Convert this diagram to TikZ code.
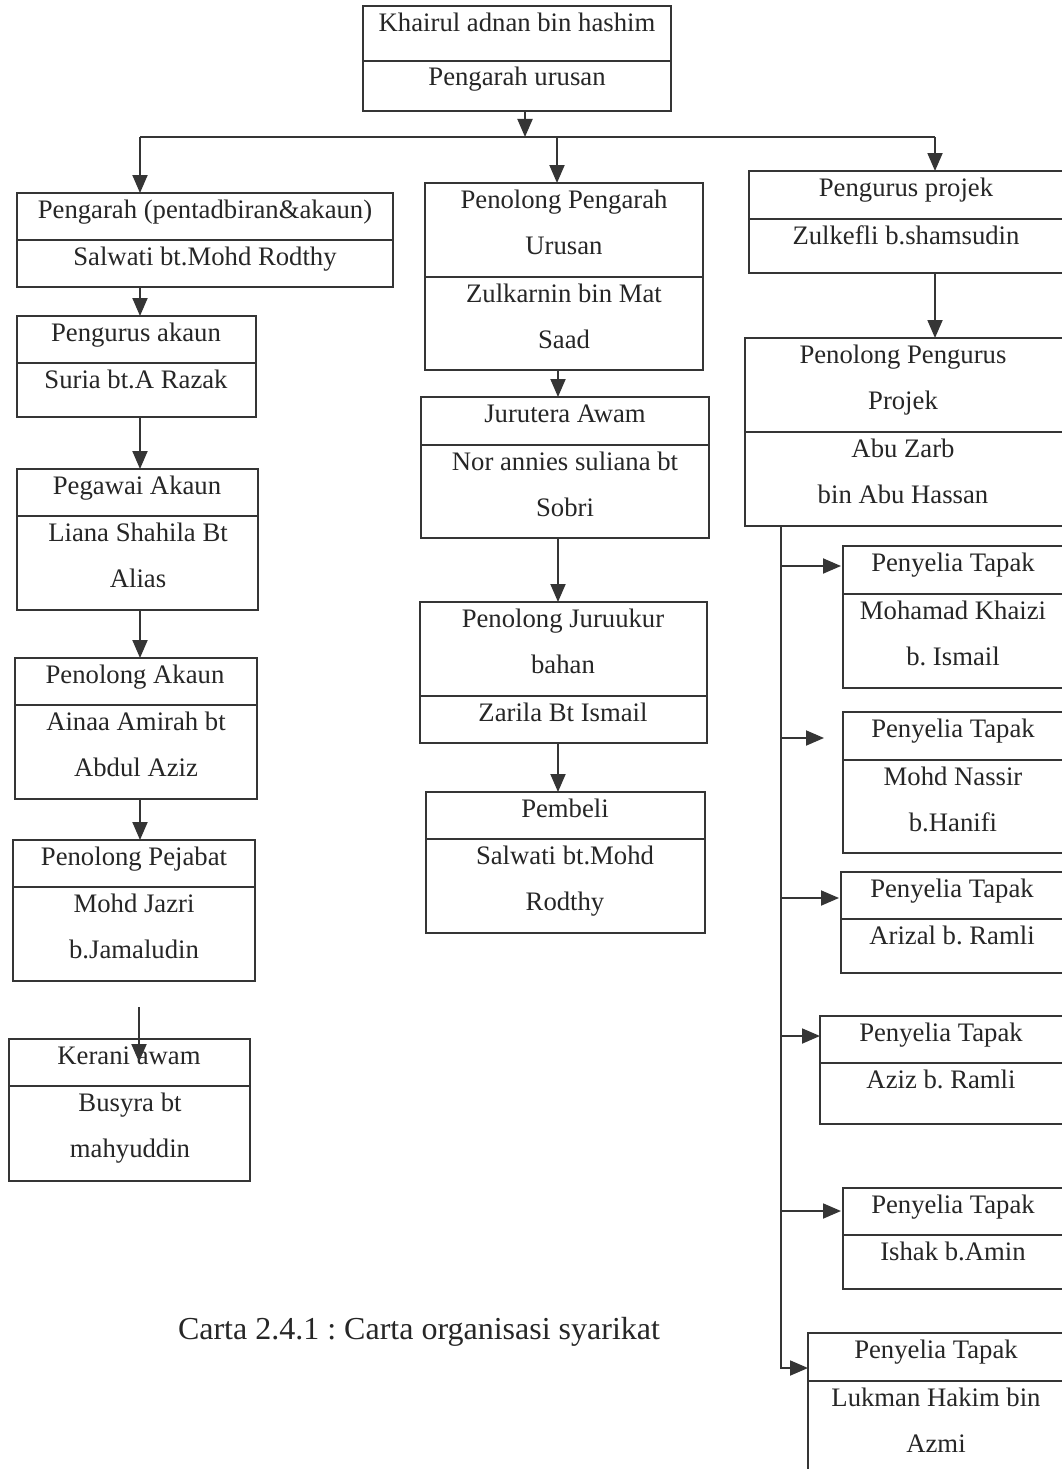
\documentclass[tikz,border=0pt]{standalone}
\usepackage{fontspec}
\setmainfont{Liberation Serif}
\usetikzlibrary{arrows.meta}
\frenchspacing
\definecolor{ink}{HTML}{353535}
\definecolor{txtc}{HTML}{262626}
\tikzset{
 obox/.style={draw=ink, line width=1.8pt, rectangle, inner sep=0pt, outer sep=0pt},
 divl/.style={draw=ink, line width=1.6pt},
 conn/.style={draw=ink, line width=1.9pt},
 arr/.style={conn, -{Triangle[length=18pt,width=15pt]}},
 txt/.style={anchor=base, inner sep=0pt, text=txtc, font=\fontsize{26.7}{32}\selectfont},
 captxt/.style={anchor=base, inner sep=0pt, text=txtc, font=\fontsize{32}{38}\selectfont},
}
\newcommand\orgbox[6]{%
 \node[obox, minimum width={(#4)-(#2)}, minimum height={(#5)-(#3)}] (#1) at ({((#2)+(#4))/2},{((#3)+(#5))/2}) {};
 \draw[divl] (#2,#6) -- (#4,#6);
}
\newcommand\tl[4]{\node[txt] (#1) at (#2,#3) {#4};}
\begin{document}
\begin{tikzpicture}[x=1pt,y=-1pt]
\useasboundingbox (0,0) rectangle (1062,1469);
\clip (0,0) rectangle (1062,1469);
\fill[white] (0,0) rectangle (1062,1469);

\orgbox{top}{363}{6}{671}{111}{61}
\tl{top1}{517}{32}{Khairul adnan bin hashim}
\tl{top2}{517}{86}{Pengarah urusan}

\orgbox{L1}{17}{193}{393}{287}{240}
\tl{L1a}{205}{218}{Pengarah (pentadbiran\&akaun)}
\tl{L1b}{205}{265}{Salwati bt.Mohd Rodthy}

\orgbox{L2}{17}{316}{256}{417}{363}
\tl{L2a}{136}{341}{Pengurus akaun}
\tl{L2b}{136}{388}{Suria bt.A Razak}

\orgbox{L3}{17}{469}{258}{610}{516}
\tl{L3a}{137}{494}{Pegawai Akaun}
\tl{L3b}{138}{541}{Liana Shahila Bt}
\tl{L3c}{138}{587.5}{Alias}

\orgbox{L4}{15}{658}{257}{799}{705}
\tl{L4a}{135}{683}{Penolong Akaun}
\tl{L4b}{136}{730}{Ainaa Amirah bt}
\tl{L4c}{136}{776.5}{Abdul Aziz}

\orgbox{L5}{13}{840}{255}{981}{887}
\tl{L5a}{134}{865}{Penolong Pejabat}
\tl{L5b}{134}{912}{Mohd Jazri}
\tl{L5c}{134}{958.5}{b.Jamaludin}

\orgbox{L6}{9}{1039}{250}{1181}{1086}
\tl{L6a}{129}{1064}{Kerani awam}
\tl{L6b}{130}{1111}{Busyra bt}
\tl{L6c}{130}{1157.5}{mahyuddin}

\orgbox{M1}{425}{183}{703}{370}{277}
\tl{M1a}{564}{208}{Penolong Pengarah}
\tl{M1b}{564}{254.5}{Urusan}
\tl{M1c}{564}{302}{Zulkarnin bin Mat}
\tl{M1d}{564}{348.5}{Saad}

\orgbox{M2}{421}{397}{709}{538}{445}
\tl{M2a}{565}{422}{Jurutera Awam}
\tl{M2b}{565}{470}{Nor annies suliana bt}
\tl{M2c}{565}{516.5}{Sobri}

\orgbox{M3}{420}{602}{707}{743}{696}
\tl{M3a}{563}{627}{Penolong Juruukur}
\tl{M3b}{563}{673.5}{bahan}
\tl{M3c}{563}{721}{Zarila Bt Ismail}

\orgbox{M4}{426}{792}{705}{933}{839}
\tl{M4a}{565}{817}{Pembeli}
\tl{M4b}{565}{864}{Salwati bt.Mohd}
\tl{M4c}{565}{910.5}{Rodthy}

\orgbox{R1}{749}{171}{1075}{273}{219}
\tl{R1a}{906}{196}{Pengurus projek}
\tl{R1b}{906}{244}{Zulkefli b.shamsudin}

\orgbox{R2}{745}{338}{1075}{526}{432}
\tl{R2a}{903}{363}{Penolong Pengurus}
\tl{R2b}{903}{409.5}{Projek}
\tl{R2c}{903}{457}{Abu Zarb}
\tl{R2d}{903}{503.5}{bin Abu Hassan}

\orgbox{P1}{843}{546}{1075}{688}{594}
\tl{P1a}{953}{571}{Penyelia Tapak}
\tl{P1b}{953}{619}{Mohamad Khaizi}
\tl{P1c}{953}{665.5}{b. Ismail}

\orgbox{P2}{843}{712}{1075}{853}{760}
\tl{P2a}{953}{737}{Penyelia Tapak}
\tl{P2b}{953}{785}{Mohd Nassir}
\tl{P2c}{953}{831.5}{b.Hanifi}

\orgbox{P3}{841}{872}{1075}{973}{919}
\tl{P3a}{952}{897}{Penyelia Tapak}
\tl{P3b}{952}{944}{Arizal b. Ramli}

\orgbox{P4}{820}{1016}{1075}{1124}{1063}
\tl{P4a}{941}{1041}{Penyelia Tapak}
\tl{P4b}{941}{1088}{Aziz b. Ramli}

\orgbox{P5}{843}{1188}{1075}{1289}{1235}
\tl{P5a}{953}{1213}{Penyelia Tapak}
\tl{P5b}{953}{1260}{Ishak b.Amin}

\orgbox{P6}{808}{1333}{1075}{1490}{1381}
\tl{P6a}{936}{1358}{Penyelia Tapak}
\tl{P6b}{936}{1406}{Lukman Hakim bin}
\tl{P6c}{936}{1452.5}{Azmi}

\node[captxt] (caption) at (419,1339) {Carta 2.4.1 : Carta organisasi syarikat};

% connectors
\coordinate (bus) at (525,137);
\coordinate (busL) at (140,137);
\coordinate (busM) at (557,137);
\coordinate (busR) at (935,137);
\draw[arr] (top.south -| bus) -- (bus);
\draw[conn] (busL) -- (busR);
\draw[arr] (busL) -- (busL |- L1.north);
\draw[arr] (busM) -- (busM |- M1.north);
\draw[arr] (busR) -- (busR |- R1.north);

\coordinate (lx) at (140,0);
\draw[arr] (lx |- L1.south) -- (lx |- L2.north);
\draw[arr] (lx |- L2.south) -- (lx |- L3.north);
\draw[arr] (lx |- L3.south) -- (lx |- L4.north);
\draw[arr] (lx |- L4.south) -- (lx |- L5.north);
\coordinate (k0) at (139,1007);
\coordinate (k1) at (139,1062);
\draw[arr] (k0) -- (k1);

\coordinate (mx) at (558,0);
\draw[arr] (mx |- M1.south) -- (mx |- M2.north);
\draw[arr] (mx |- M2.south) -- (mx |- M3.north);
\draw[arr] (mx |- M3.south) -- (mx |- M4.north);

\draw[arr] (busR |- R1.south) -- (busR |- R2.north);

\coordinate (tx) at (781,0);
\coordinate (t1) at (781,566);
\coordinate (t2) at (781,738);
\coordinate (t3) at (781,898);
\coordinate (t4) at (781,1036);
\coordinate (t5) at (781,1211);
\coordinate (t6) at (781,1368);
\draw[arr] (tx |- R2.south) -- (t6) -- (P6.west |- t6);
\draw[arr, shorten >=2pt] (t1) -- (P1.west |- t1);
\draw[arr, shorten >=19pt] (t2) -- (P2.west |- t2);
\draw[arr, shorten >=2pt] (t3) -- (P3.west |- t3);
\draw[arr] (t4) -- (P4.west |- t4);
\draw[arr, shorten >=2pt] (t5) -- (P5.west |- t5);
\end{tikzpicture}
\end{document}
